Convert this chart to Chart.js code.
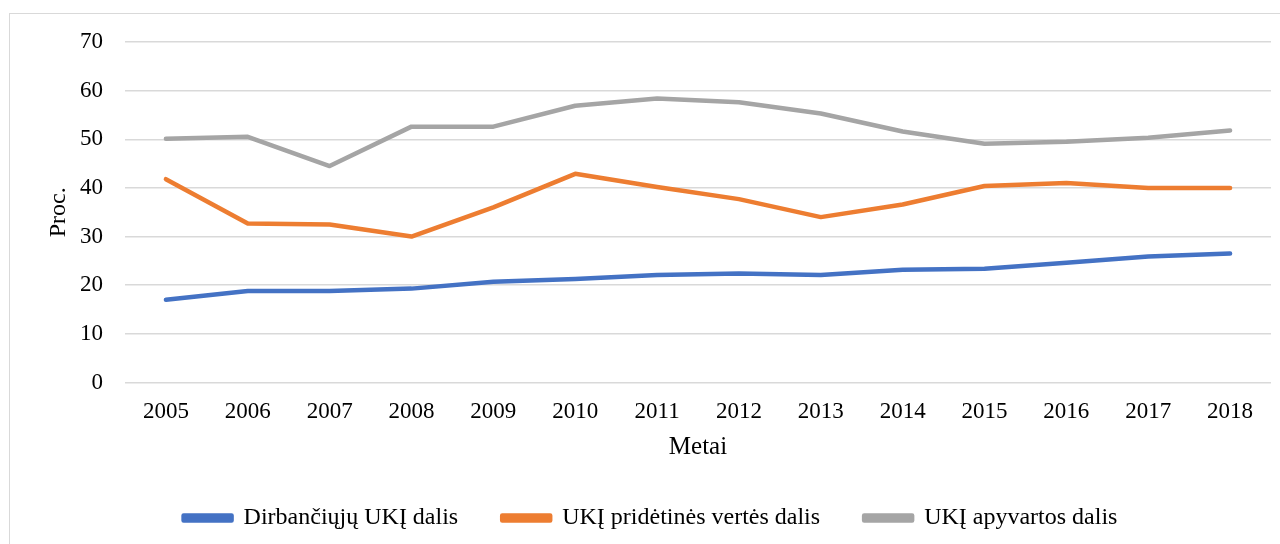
<!DOCTYPE html>
<html>
<head>
<meta charset="utf-8">
<script src="https://cdn.jsdelivr.net/npm/chart.js@4/dist/chart.umd.min.js"></script>
<style>
  html, body { margin: 0; padding: 0; background: #fff; overflow: hidden; }
  #frame { position: absolute; left: 9px; top: 13px; width: 1290px; height: 560px; border: 1px solid #d9d9d9; }
  #chart { position: absolute; left: 0; top: 0; }
</style>
</head>
<body>
<div id="frame"></div>
<canvas id="chart" width="1280" height="544"></canvas>
<script>
// Dirbančiųjų, pridėtinės vertės ir apyvartos dalys, proc.
const years = ['2005', '2006', '2007', '2008', '2009', '2010', '2011', '2012', '2013', '2014', '2015', '2016', '2017', '2018'];
const dirbanciuju = [17.0, 18.8, 18.8, 19.3, 20.7, 21.3, 22.1, 22.4, 22.1, 23.2, 23.4, 24.6, 25.9, 26.5];
const pridetinesVertes = [41.8, 32.7, 32.5, 30.0, 36.0, 42.9, 40.2, 37.7, 34.0, 36.6, 40.4, 41.0, 40.0, 40.0];
const apyvartos = [50.1, 50.5, 44.5, 52.6, 52.6, 56.9, 58.4, 57.6, 55.3, 51.6, 49.1, 49.5, 50.3, 51.8];
const seriesNames = ['Dirbančiųjų UKĮ dalis', 'UKĮ pridėtinės vertės dalis', 'UKĮ apyvartos dalis'];
const yTicks = [0, 10, 20, 30, 40, 50, 60, 70];

const serif = 'Liberation Serif, Times New Roman, serif';

function line(label, data, color) {
    return {
        label: label,
        data: data,
        borderColor: color,
        backgroundColor: color,
        borderWidth: 4.5,
        borderCapStyle: 'round',
        borderJoinStyle: 'round',
        pointRadius: 0,
        tension: 0,
        fill: false
    };
}

const ctx = document.getElementById('chart').getContext('2d');
new Chart(ctx, {
    type: 'line',
    data: {
        labels: years,
        datasets: [
            line(seriesNames[0], dirbanciuju, '#4472C4'),
            line(seriesNames[1], pridetinesVertes, '#ED7D31'),
            line(seriesNames[2], apyvartos, '#A5A5A5')
        ]
    },
    options: {
        responsive: false,
        devicePixelRatio: 1,
        animation: false,
        layout: { padding: { left: 30, right: 9, top: 42, bottom: 4 } },
        plugins: {
            legend: {
                position: 'bottom',
                labels: {
                    color: '#000',
                    font: { family: serif, size: 24 },
                    boxWidth: 48,
                    boxHeight: 5,
                    padding: 44
                }
            },
            tooltip: { enabled: false }
        },
        scales: {
            x: {
                offset: true,
                grid: { display: false, offset: true },
                border: { display: false },
                ticks: { color: '#000', font: { family: serif, size: 23, lineHeight: 1.0 }, padding: 10, maxRotation: 0 },
                title: { display: true, text: 'Metai', color: '#000', font: { family: serif, size: 25, lineHeight: 1.1 }, padding: { top: 0, bottom: 1 } }
            },
            y: {
                min: 0,
                max: 70,
                afterBuildTicks: axis => { axis.ticks = yTicks.map(v => ({ value: v })); },
                afterFit: axis => { axis.width = 95; },
                grid: { color: '#d9d9d9', lineWidth: 1.5, drawTicks: false },
                border: { display: false },
                ticks: { color: '#000', font: { family: serif, size: 23 }, padding: 22 },
                title: { display: true, text: 'Proc.', color: '#000', font: { family: serif, size: 24 }, padding: { top: 14, bottom: 0 } }
            }
        }
    }
});
</script>
</body>
</html>
